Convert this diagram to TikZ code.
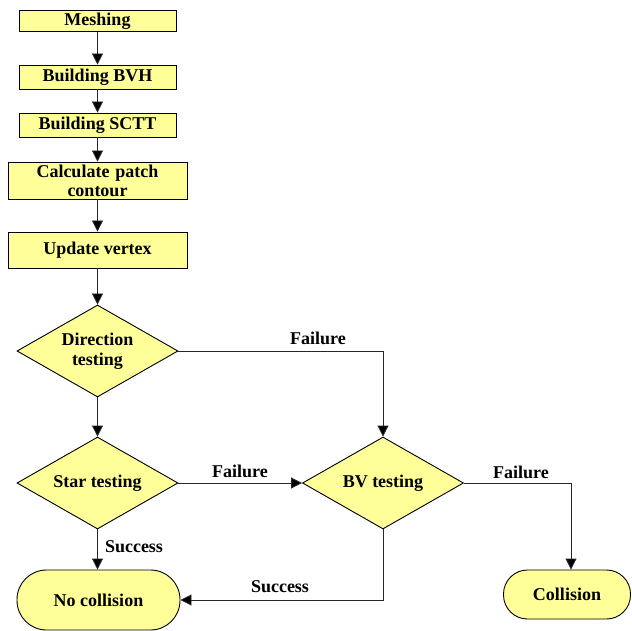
\documentclass[tikz,border=0pt]{standalone}
\usepackage{fontspec}
\setmainfont{Liberation Serif}
\usetikzlibrary{shapes.geometric,arrows.meta}
\definecolor{boxfill}{RGB}{255,255,153}
\tikzset{
  every node/.style={font=\fontsize{18}{20}\selectfont\bfseries},
  procbox/.style={draw=black, fill=boxfill, line width=0.9pt, inner sep=0pt, align=center},
  decbox/.style={diamond, draw=black, fill=boxfill, line width=0.9pt, inner sep=0pt, align=center,
     shape aspect=1.75, minimum width=161pt, minimum height=92pt},
  termbox/.style={draw=black, fill=boxfill, line width=0.9pt, inner sep=0pt, align=center},
  conn/.style={draw=black!85, line width=0.9pt, -{Triangle[length=11pt,width=11pt,fill=black]}},
  lbl/.style={inner sep=0pt}
}
\begin{document}
\begin{tikzpicture}[x=1pt,y=-1pt]
\useasboundingbox (0,0) rectangle (632,631);
\node[procbox, minimum width=157pt, minimum height=21pt] (mesh) at (97.5,21) {Meshing};
\node[procbox, minimum width=157pt, minimum height=24pt] (bvh) at (97.5,77) {Building BVH};
\node[procbox, minimum width=157pt, minimum height=24pt] (sctt) at (97.5,125) {Building SCTT};
\node[procbox, minimum width=179pt, minimum height=37pt, text width=179pt] (calc) at (97.5,180.5) {Calculate patch\\[-1pt]contour};
\node[procbox, minimum width=179pt, minimum height=36pt] (upd) at (97.5,250) {Update vertex};
\node[decbox] (dir) at (97.5,351) {Direction\\testing};
\node[decbox] (star) at (97.5,483) {Star testing};
\node[decbox] (bv) at (383,483) {BV testing};
\node[termbox, minimum width=163pt, minimum height=60pt, rounded corners=29.5pt] (nocol) at (98.5,600) {No collision};
\node[termbox, minimum width=127pt, minimum height=49pt, rounded corners=24pt] (col) at (567,594.5) {Collision};

\draw[conn] (mesh) -- (bvh);
\draw[conn] (bvh) -- (sctt);
\draw[conn] (sctt) -- (calc);
\draw[conn] (calc) -- (upd);
\draw[conn] (upd) -- (dir);
\draw[conn] (dir) -- (star);
\draw[conn] (dir.east) -| (bv.north);
\draw[conn] (star.east) -- (bv.west);
\draw[conn] (bv.east) -| ([xshift=4pt]col.north);
\draw[conn] (star.south) -- (star.south |- nocol.north);
\draw[conn] (bv.south) |- (nocol.east);

\node[lbl] (l1) at (318,338) {Failure};
\node[lbl] (l2) at (240,471) {Failure};
\node[lbl] (l3) at (521,472) {Failure};
\node[lbl] (l4) at (134,547) {Success};
\node[lbl] (l5) at (280,587) {Success};
\end{tikzpicture}
\end{document}
